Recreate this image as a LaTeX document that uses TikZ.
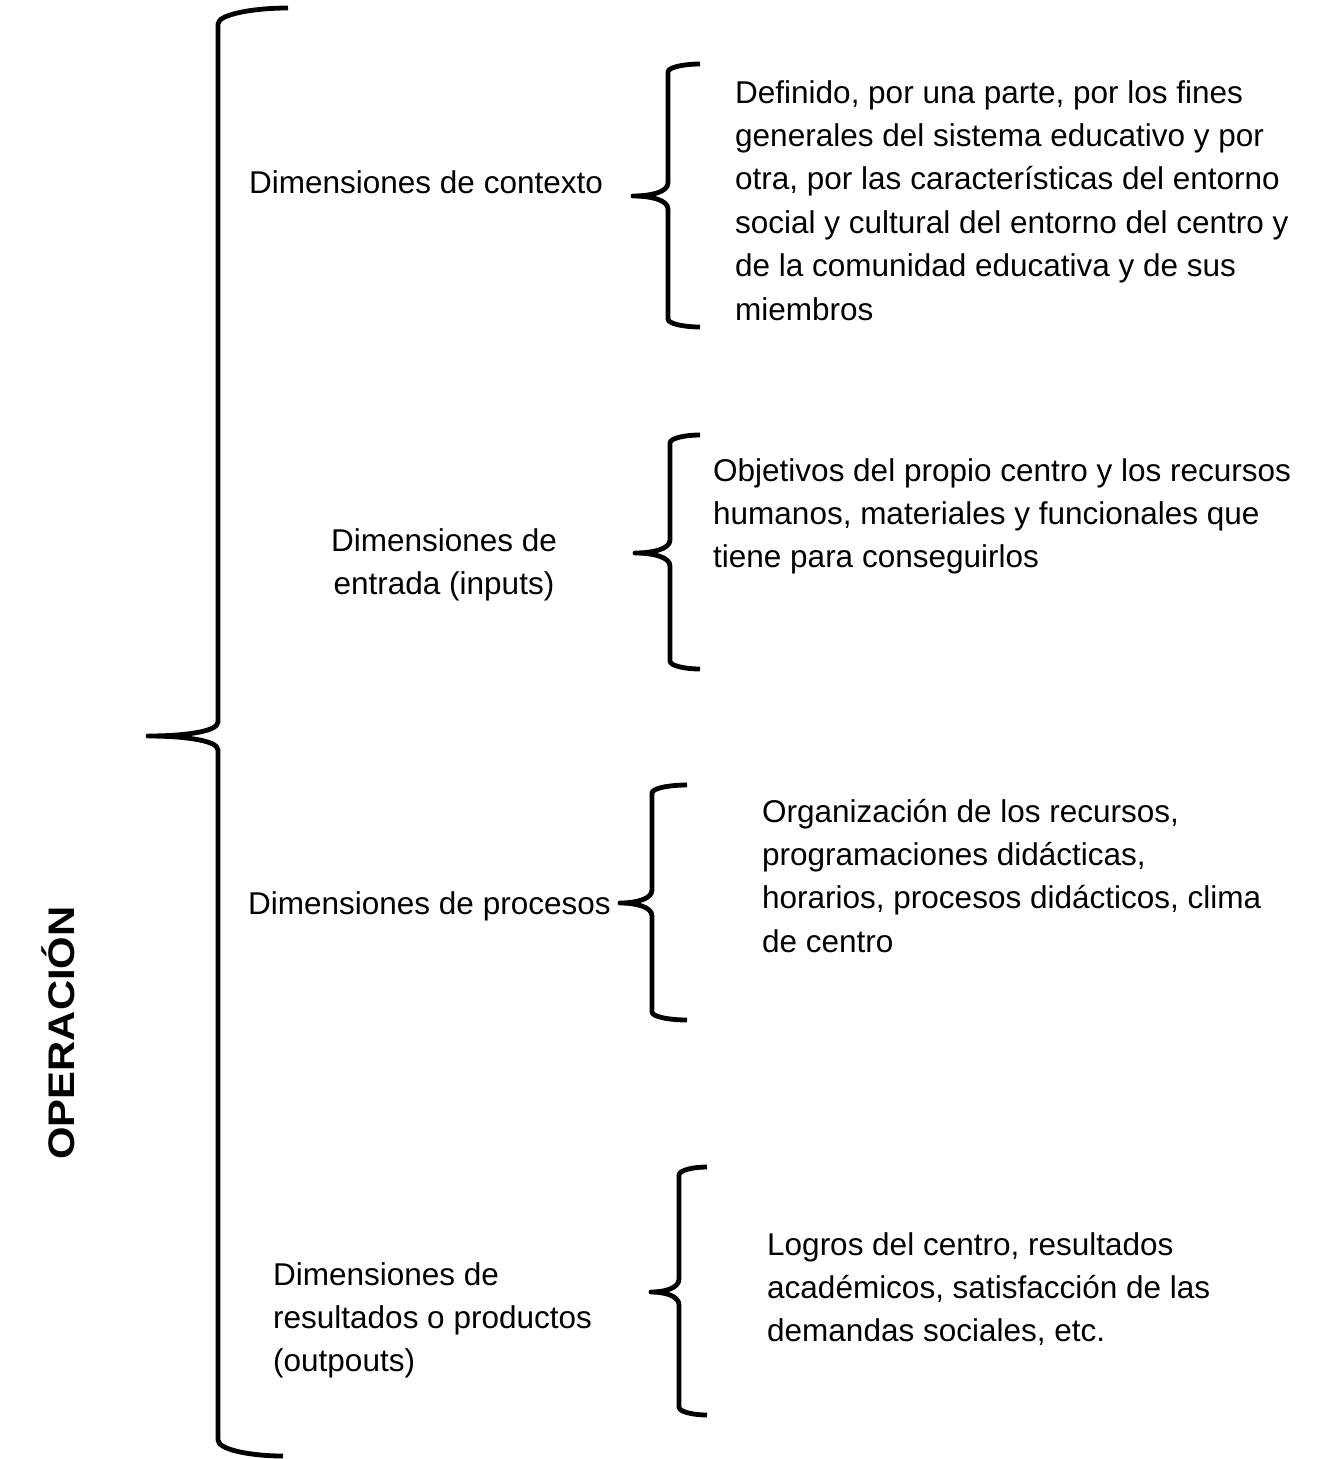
\documentclass[tikz,border=0pt]{standalone}
\usepackage{graphicx}
\usepackage{fontspec}
\setmainfont{Liberation Sans}
\tikzset{
  txt/.style={font=\fontsize{31.5}{43.4}\selectfont, inner sep=0pt, anchor=base west},
  bracestroke/.style={line width=4.8pt, line join=round, line cap=butt, black},
}
% #1 top end x, #2 top y, #3 vertical x, #4 tip x, #5 tip y, #6 bottom y, #7 bottom end x, #8 corner depth, #9 tip half-height
\newcommand\bracedraw[9]{%
  \draw[bracestroke] (#1,#2) .. controls ({(#1+#3)/2},#2) and (#3,{#2+0.4*#8}) .. (#3,{#2+#8})
    -- (#3,{#5-#9}) .. controls (#3,{#5-0.3*#9}) and ({(#3+#4)/2},#5) .. (#4,#5)
    .. controls ({(#3+#4)/2},#5) and (#3,{#5+0.3*#9}) .. (#3,{#5+#9})
    -- (#3,{#6-#8}) .. controls (#3,{#6-0.4*#8}) and ({(#7+#3)/2},#6) .. (#7,#6);}
\begin{document}
\begin{tikzpicture}[x=1pt,y=-1pt]
\fill[white] (0,0) rectangle (1319,1459);
\useasboundingbox (0,0) rectangle (1319,1459);

% big brace
\bracedraw{288}{8}{218}{148}{736}{1456}{283}{16}{14}
% small braces
\bracedraw{700}{64}{668}{633}{196}{327}{700}{8}{13}
\bracedraw{700}{435}{670}{635}{553}{669}{700}{8}{13}
\bracedraw{687}{785}{652}{620}{903}{1020}{687}{8}{13}
\bracedraw{707}{1167}{679}{651}{1292}{1415}{707}{8}{13}

\node[txt] (ctx) at (249,193) {Dimensiones de contexto};
\node[txt] (ctxd) at (735,103) {\begin{tabular}[t]{@{}l@{}}Definido, por una parte, por los fines\\generales del sistema educativo y por\\otra, por las características del entorno\\social y cultural del entorno del centro y\\de la comunidad educativa y de sus\\miembros\end{tabular}};

\node[txt, anchor=base] (inp) at (444,551) {\begin{tabular}[t]{@{}c@{}}Dimensiones de\\entrada (inputs)\end{tabular}};
\node[txt] (inpd) at (713,481) {\begin{tabular}[t]{@{}l@{}}Objetivos del propio centro y los recursos\\humanos, materiales y funcionales que\\tiene para conseguirlos\end{tabular}};

\node[txt] (proc) at (248,914) {Dimensiones de procesos};
\node[txt] (procd) at (762,822) {\begin{tabular}[t]{@{}l@{}}Organización de los recursos,\\programaciones didácticas,\\horarios, procesos didácticos, clima\\de centro\end{tabular}};

\node[txt] (res) at (273,1285) {\begin{tabular}[t]{@{}l@{}}Dimensiones de\\resultados o productos\\(outpouts)\end{tabular}};
\node[txt] (resd) at (767,1255) {\begin{tabular}[t]{@{}l@{}}Logros del centro, resultados\\académicos, satisfacción de las\\demandas sociales, etc.\end{tabular}};

\node[inner sep=0pt, rotate=90, anchor=base, font=\fontsize{37}{42}\selectfont\bfseries] (op) at (74,1033) {\scalebox{1.13}[1]{OPERACIÓN}};
\end{tikzpicture}
\end{document}
